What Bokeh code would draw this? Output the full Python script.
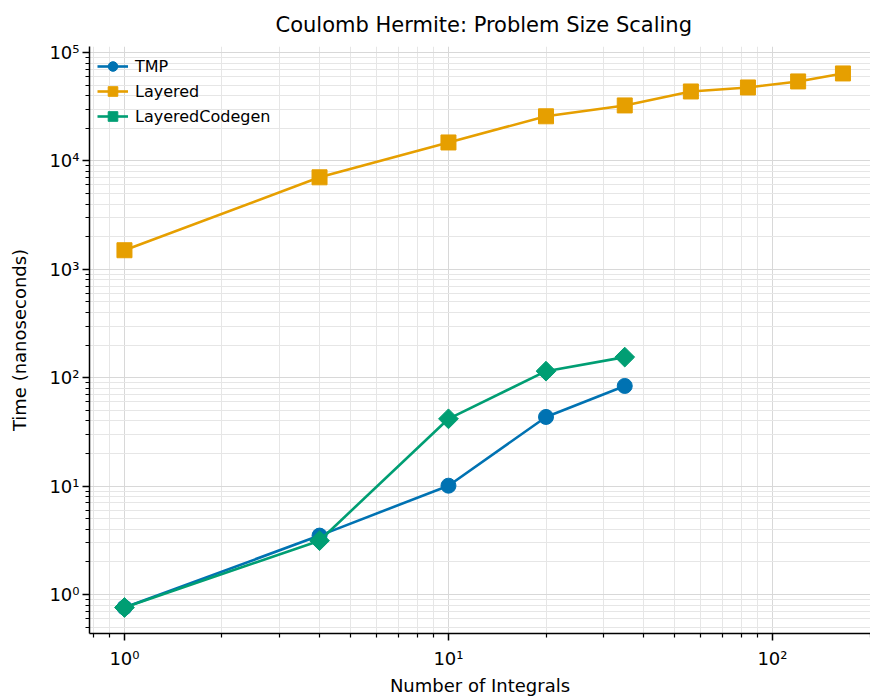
import math
from bokeh.plotting import figure
from bokeh.models import FixedTicker, Legend, LegendItem, Range1d
from bokeh.embed import file_html
from bokeh.resources import INLINE

# ---- data ----
x_tmp = [1, 4, 10, 20, 35]
tmp_ns = [0.76, 3.5, 10.1, 43.5, 84]

x_layered = [1, 4, 10, 20, 35, 56, 84, 120, 165]
layered_ns = [1500, 7060, 14800, 25800, 32500, 43700, 47600, 54100, 64100]

x_codegen = [1, 4, 10, 20, 35]
codegen_ns = [0.76, 3.14, 41.8, 115, 155]

series_names = ["TMP", "Layered", "LayeredCodegen"]

x_major = [1, 10, 100]
x_major_labels = ["10⁰", "10¹", "10²"]
y_major = [1, 10, 100, 1000, 10000, 100000]
y_major_labels = ["10⁰", "10¹", "10²", "10³", "10⁴", "10⁵"]

FONT = "DejaVu Sans"
BLUE, ORANGE, GREEN = "#0072B2", "#E69F00", "#009E73"

x_minor = [m * 10 ** e for e in range(-1, 3) for m in range(2, 10)]
y_minor = [m * 10 ** e for e in range(-1, 5) for m in range(2, 10)]

p = figure(width=870, height=698,
           x_axis_type="log", y_axis_type="log",
           x_range=Range1d(0.78, 200.7), y_range=Range1d(0.4375, 1.136e5),
           output_backend="svg", toolbar_location=None,
           min_border_left=89, min_border_right=0,
           min_border_top=46, min_border_bottom=64,
           title="Coulomb Hermite: Problem Size Scaling")

p.outline_line_color = None
p.background_fill_color = "white"
p.border_fill_color = "white"

p.title.align = "left"
p.title.offset = 186
p.title.standoff = 19
p.title.text_font = FONT
p.title.text_font_size = "21px"
p.title.text_font_style = "normal"
p.title.text_color = "black"

xt = FixedTicker(ticks=x_major, minor_ticks=x_minor)
yt = FixedTicker(ticks=y_major, minor_ticks=y_minor)
p.xaxis.ticker = xt
p.yaxis.ticker = yt
p.xgrid.ticker = xt
p.ygrid.ticker = yt

p.xaxis.major_label_overrides = {v: s for v, s in zip(x_major, x_major_labels)}
p.yaxis.major_label_overrides = {v: s for v, s in zip(y_major, y_major_labels)}

for ax in (p.xaxis[0], p.yaxis[0]):
    ax.axis_line_color = "black"
    ax.axis_line_width = 1.5
    ax.major_tick_line_color = "black"
    ax.major_tick_line_width = 1.5
    ax.major_tick_out = 7
    ax.major_tick_in = 0
    ax.minor_tick_line_color = "black"
    ax.minor_tick_line_width = 1.2
    ax.minor_tick_out = 4
    ax.minor_tick_in = 0
    ax.major_label_text_font = FONT
    ax.major_label_text_font_size = "18px"
    ax.major_label_text_color = "black"
    ax.axis_label_text_font = FONT
    ax.axis_label_text_font_size = "18px"
    ax.axis_label_text_font_style = "normal"
    ax.axis_label_text_color = "black"

p.xaxis.axis_label = "Number of Integrals"
p.yaxis.axis_label = "Time (nanoseconds)"
p.xaxis.major_label_standoff = 7
p.xaxis.axis_label_standoff = 3
p.yaxis.major_label_standoff = 3
p.yaxis.axis_label_standoff = 16

for g in (p.xgrid[0], p.ygrid[0]):
    g.grid_line_color = "#d8d8d8"
    g.grid_line_width = 1
    g.minor_grid_line_color = "#e6e6e6"
    g.minor_grid_line_width = 1

# ---- series ----
l1 = p.line(x_tmp, tmp_ns, line_color=BLUE, line_width=2.6)
s1 = p.scatter(x_tmp, tmp_ns, marker="circle", size=15,
               fill_color=BLUE, line_color=BLUE)

l2 = p.line(x_layered, layered_ns, line_color=ORANGE, line_width=2.6)
s2 = p.scatter(x_layered, layered_ns, marker="square", size=15,
               fill_color=ORANGE, line_color=ORANGE)

l3 = p.line(x_codegen, codegen_ns, line_color=GREEN, line_width=2.6)
s3 = p.scatter(x_codegen, codegen_ns, marker="square", size=14,
               angle=math.pi / 4,
               fill_color=GREEN, line_color=GREEN)

legend = Legend(items=[
    LegendItem(label=series_names[0], renderers=[l1, s1]),
    LegendItem(label=series_names[1], renderers=[l2, s2]),
    LegendItem(label=series_names[2], renderers=[l3, s3]),
], location="top_left")
legend.border_line_color = None
legend.background_fill_alpha = 0
legend.margin = 8
legend.padding = 9
legend.spacing = 1
legend.glyph_width = 31
legend.glyph_height = 24
legend.label_height = 24
legend.label_standoff = 7
legend.label_text_font = FONT
legend.label_text_font_size = "16px"
legend.label_text_color = "black"
p.add_layout(legend)

open("out.html", "w").write(file_html(p, INLINE))
